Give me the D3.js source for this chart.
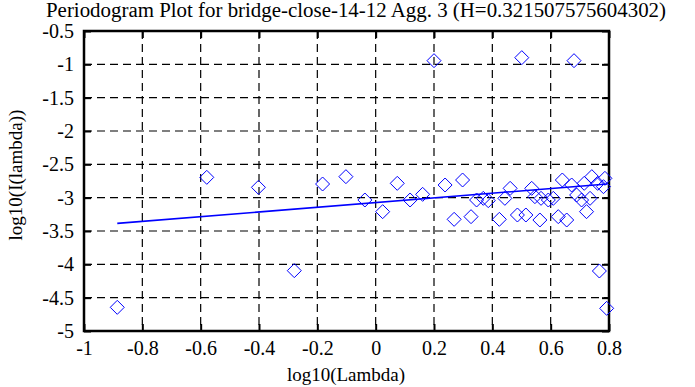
<!DOCTYPE html>
<html><head><meta charset="utf-8">
<script src="https://cdn.jsdelivr.net/npm/d3@7"></script>
<style>body{margin:0;background:#fff}svg{display:block}</style>
</head><body><svg id="c" width="695" height="387"></svg>
<script>
const titleText = "Periodogram Plot for bridge-close-14-12 Agg. 3 (H=0.321507575604302)";
const xTicks = [-1,-0.8,-0.6,-0.4,-0.2,0,0.2,0.4,0.6,0.8];
const yTicks = [-0.5,-1,-1.5,-2,-2.5,-3,-3.5,-4,-4.5,-5];
const ptX = [-0.886,-0.579,-0.402,-0.279,-0.182,-0.102,-0.037,0.024,0.074,0.118,0.161,0.200,0.238,0.269,0.298,0.327,0.346,0.369,0.386,0.424,0.443,0.461,0.486,0.501,0.515,0.535,0.546,0.563,0.567,0.592,0.609,0.626,0.640,0.655,0.672,0.680,0.689,0.706,0.715,0.723,0.735,0.741,0.761,0.767,0.781,0.786,0.792];
const ptY = [-4.645,-2.695,-2.845,-4.095,-2.795,-2.685,-3.035,-3.21,-2.785,-3.035,-2.95,-0.945,-2.81,-3.325,-2.735,-3.285,-3.035,-3.01,-3.045,-3.325,-3.01,-2.86,-3.26,-0.90,-3.26,-2.86,-2.985,-3.335,-3.01,-3.035,-3.01,-3.285,-2.735,-3.335,-2.81,-0.945,-2.96,-3.035,-2.785,-3.21,-3.01,-2.685,-2.785,-4.10,-2.835,-2.71,-4.66];
const fitX = [-0.886, 0.794];
const fitY = [-3.385, -2.795];

const FONT = "'Liberation Serif','Times New Roman','DejaVu Serif',serif";
const svg = d3.select("#c");
const L=84,R=609,T=31,B=331;
const x = d3.scaleLinear().domain([-1,0.8]).range([L,R]);
const y = d3.scaleLinear().domain([-5,-0.5]).range([B,T]);
const blue="#0000ff";

const g = svg.append("g");
g.selectAll("line.gx").data(xTicks.filter(d=>d>-1&&d<0.8)).join("line")
 .attr("x1",d=>x(d)).attr("x2",d=>x(d)).attr("y1",T).attr("y2",B)
 .attr("stroke","#000").attr("stroke-dasharray","8,5").attr("stroke-width",1.2);
g.selectAll("line.gy").data(yTicks.filter(d=>d>-5&&d<-0.5)).join("line")
 .attr("y1",d=>y(d)).attr("y2",d=>y(d)).attr("x1",L).attr("x2",R)
 .attr("stroke","#000").attr("stroke-dasharray","8,5").attr("stroke-width",1.2);

const fmt = d=>String(d);
const styleAxis = a=>{a.attr("font-family",FONT).attr("font-size",20);
 a.select(".domain").remove(); a.selectAll("line").attr("stroke-width",2);
 a.selectAll("text").style("font-family",FONT).style("font-size","20px").attr("fill","#000");};
svg.append("g").attr("transform",`translate(0,${B})`)
 .call(d3.axisBottom(x).tickValues(xTicks).tickFormat(fmt).tickSizeInner(-7).tickSizeOuter(0).tickPadding(10))
 .call(styleAxis);
svg.append("g").attr("transform",`translate(0,${T})`)
 .call(d3.axisTop(x).tickValues(xTicks).tickFormat("").tickSizeInner(-7).tickSizeOuter(0))
 .call(styleAxis);
svg.append("g").attr("transform",`translate(${L},0)`)
 .call(d3.axisLeft(y).tickValues(yTicks).tickFormat(fmt).tickSizeInner(-7).tickSizeOuter(0).tickPadding(10))
 .call(styleAxis);
svg.append("g").attr("transform",`translate(${R},0)`)
 .call(d3.axisRight(y).tickValues(yTicks).tickFormat("").tickSizeInner(-7).tickSizeOuter(0))
 .call(styleAxis);

svg.append("rect").attr("x",L).attr("y",T).attr("width",R-L).attr("height",B-T)
 .attr("fill","none").attr("stroke","#000").attr("stroke-width",2.5);

svg.append("line").attr("x1",x(fitX[0])).attr("y1",y(fitY[0])).attr("x2",x(fitX[1])).attr("y2",y(fitY[1]))
 .attr("stroke",blue).attr("stroke-width",1.6);

const pts = ptX.map((v,i)=>[v,ptY[i]]);
svg.append("g").selectAll("path").data(pts).join("path")
 .attr("d",d=>{const cx=x(d[0]),cy=y(d[1]),r=7;return `M${cx},${cy-r}L${cx+r},${cy}L${cx},${cy+r}L${cx-r},${cy}Z`;})
 .attr("fill","none").attr("stroke",blue).attr("stroke-width",1);

const txt = (xx,yy,s,size,tr)=>{const t=svg.append("text").attr("text-anchor","middle").style("font-family",FONT).style("font-size",size+"px").attr("fill","#000").text(s);
 if(tr) t.attr("transform",tr); else t.attr("x",xx).attr("y",yy); return t;};
txt(356,17,titleText,20).attr("textLength",620).attr("lengthAdjust","spacingAndGlyphs");
txt(346,381,"log10(Lambda)",19);
txt(0,0,"log10(I(lambda))",19,"translate(22,175) rotate(-90)");
</script></body></html>
